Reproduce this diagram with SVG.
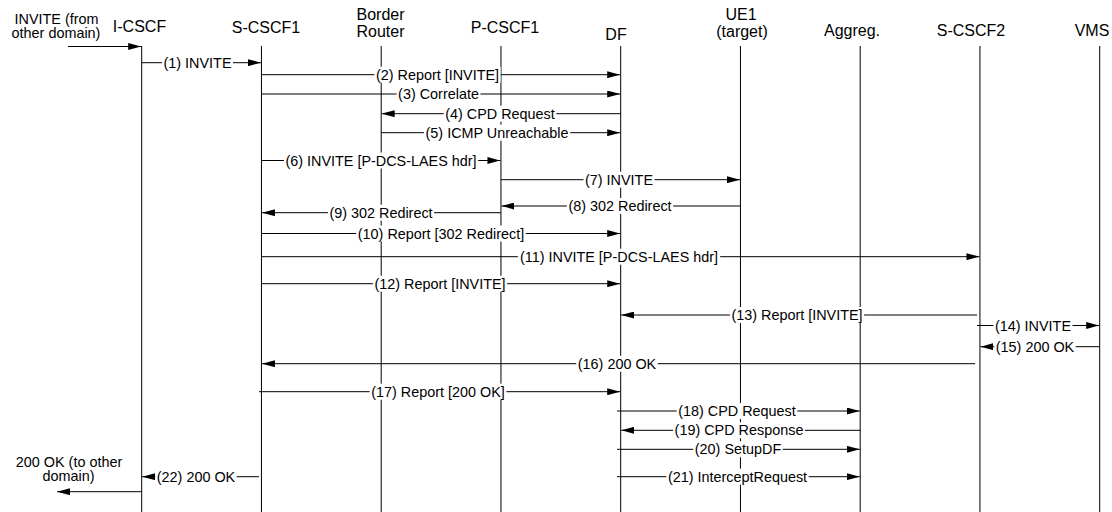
<svg xmlns="http://www.w3.org/2000/svg" width="1112" height="512" viewBox="0 0 1112 512">
<style>
.hd{font-family:"Liberation Sans",Arial,sans-serif;font-size:16px;fill:#000;text-anchor:middle}
.ext{font-family:"Liberation Sans",Arial,sans-serif;font-size:14.4px;fill:#000;text-anchor:middle}
.lb{font-family:"Liberation Sans",Arial,sans-serif;font-size:14.4px;fill:#000;text-anchor:middle}
.ll{stroke:#000;stroke-width:1;fill:none}
.msg{stroke:#000;stroke-width:1;fill:none;marker-end:url(#ah)}
.bg{fill:#fff}
</style>
<defs>
<marker id="ah" viewBox="0 0 13 7" refX="13" refY="3.5" markerWidth="13" markerHeight="7" markerUnits="userSpaceOnUse" orient="auto">
<path d="M0,0 L13,3.5 L0,7 z" fill="#000"/>
</marker>
</defs>
<rect width="1112" height="512" fill="#fff"/>

<g id="ext-in">
<text class="ext" x="56.5" y="23.5">INVITE (from</text>
<text class="ext" x="56" y="38">other domain)</text>
</g>
<g id="ext-out">
<text class="ext" x="69" y="466.5">200 OK (to other</text>
<text class="ext" x="68.5" y="481">domain)</text>
</g>

<g id="node-icscf"><text class="hd" x="139.5" y="32">I-CSCF</text><line class="ll" x1="141.7" y1="46" x2="141.7" y2="512"/></g>
<g id="node-scscf1"><text class="hd" x="266" y="32.5">S-CSCF1</text><line class="ll" x1="261.45" y1="46" x2="261.45" y2="512"/></g>
<g id="node-border"><text class="hd" x="380.5" y="20">Border</text><text class="hd" x="380.5" y="37">Router</text><line class="ll" x1="381.2" y1="46" x2="381.2" y2="512"/></g>
<g id="node-pcscf1"><text class="hd" x="505" y="33">P-CSCF1</text><line class="ll" x1="500.95" y1="46" x2="500.95" y2="512"/></g>
<g id="node-df"><text class="hd" x="616" y="39.5">DF</text><line class="ll" x1="620.7" y1="46" x2="620.7" y2="512"/></g>
<g id="node-ue1"><text class="hd" x="741" y="20">UE1</text><text class="hd" x="742" y="37">(target)</text><line class="ll" x1="740.45" y1="46" x2="740.45" y2="512"/></g>
<g id="node-aggreg"><text class="hd" x="852" y="36">Aggreg.</text><line class="ll" x1="860.2" y1="46" x2="860.2" y2="512"/></g>
<g id="node-scscf2"><text class="hd" x="971" y="36">S-CSCF2</text><line class="ll" x1="979.95" y1="46" x2="979.95" y2="512"/></g>
<g id="node-vms"><text class="hd" x="1092" y="36">VMS</text><line class="ll" x1="1099.7" y1="46" x2="1099.7" y2="512"/></g>

<g id="connectors">
<line class="msg" x1="68" y1="46.5" x2="141.2" y2="46.5"/>
<line class="msg" x1="141.7" y1="491.7" x2="57" y2="491.7"/>

<g><line class="msg" x1="141.7" y1="62.7" x2="261" y2="62.7"/><rect class="bg" x="162" y="54.7" width="71" height="16"/><text class="lb" x="197.5" y="67.7">(1) INVITE</text></g>
<g><line class="msg" x1="261.45" y1="74.7" x2="620.2" y2="74.7"/><rect class="bg" x="374.4" y="66.7" width="126.2" height="16"/><text class="lb" x="437.5" y="79.7">(2) Report [INVITE]</text></g>
<g><line class="msg" x1="261.45" y1="94" x2="620.2" y2="94"/><rect class="bg" x="396.6" y="86" width="83.8" height="16"/><text class="lb" x="438.5" y="99">(3) Correlate</text></g>
<g><line class="msg" x1="620.7" y1="113.7" x2="381.7" y2="113.7"/><rect class="bg" x="443.7" y="105.7" width="112.6" height="16"/><text class="lb" x="500" y="118.7">(4) CPD Request</text></g>
<g><line class="msg" x1="381.2" y1="132.7" x2="620.2" y2="132.7"/><rect class="bg" x="423.9" y="124.7" width="146.2" height="16"/><text class="lb" x="497" y="137.7">(5) ICMP Unreachable</text></g>
<g><line class="msg" x1="261.45" y1="160.5" x2="500.45" y2="160.5"/><rect class="bg" x="283.9" y="152.5" width="194.2" height="16"/><text class="lb" x="381" y="165.5">(6) INVITE [P-DCS-LAES hdr]</text></g>
<g><line class="msg" x1="500.95" y1="179.7" x2="739.95" y2="179.7"/><rect class="bg" x="583.5" y="171.7" width="71" height="16"/><text class="lb" x="619" y="184.7">(7) INVITE</text></g>
<g><line class="msg" x1="740.45" y1="206" x2="501.45" y2="206"/><rect class="bg" x="566.9" y="198" width="106.2" height="16"/><text class="lb" x="620" y="211">(8) 302 Redirect</text></g>
<g><line class="msg" x1="500.95" y1="212.7" x2="261.95" y2="212.7"/><rect class="bg" x="327.9" y="204.7" width="106.2" height="16"/><text class="lb" x="381" y="217.7">(9) 302 Redirect</text></g>
<g><line class="msg" x1="261.45" y1="233.5" x2="620.2" y2="233.5"/><rect class="bg" x="356.25" y="225.5" width="169.5" height="16"/><text class="lb" x="441" y="238.5">(10) Report [302 Redirect]</text></g>
<g><line class="msg" x1="261.45" y1="256.7" x2="979.45" y2="256.7"/><rect class="bg" x="517.85" y="248.7" width="202.3" height="16"/><text class="lb" x="619" y="261.7">(11) INVITE [P-DCS-LAES hdr]</text></g>
<g><line class="msg" x1="261.45" y1="283.7" x2="620.2" y2="283.7"/><rect class="bg" x="372.9" y="275.7" width="134.2" height="16"/><text class="lb" x="440" y="288.7">(12) Report [INVITE]</text></g>
<g><line class="msg" x1="977" y1="315" x2="621.2" y2="315"/><rect class="bg" x="729.9" y="307" width="134.2" height="16"/><text class="lb" x="797" y="320">(13) Report [INVITE]</text></g>
<g><line class="msg" x1="977" y1="325.5" x2="1099.2" y2="325.5"/><rect class="bg" x="993.5" y="317.5" width="79" height="16"/><text class="lb" x="1033" y="330.5">(14) INVITE</text></g>
<g><line class="msg" x1="1099.7" y1="346.7" x2="980.45" y2="346.7"/><rect class="bg" x="994.3" y="338.7" width="81.4" height="16"/><text class="lb" x="1035" y="351.7">(15) 200 OK</text></g>
<g><line class="msg" x1="975" y1="363.7" x2="261.95" y2="363.7"/><rect class="bg" x="576.3" y="355.7" width="81.4" height="16"/><text class="lb" x="617" y="368.7">(16) 200 OK</text></g>
<g><line class="msg" x1="259" y1="391.7" x2="620.2" y2="391.7"/><rect class="bg" x="369.65" y="383.7" width="136.7" height="16"/><text class="lb" x="438" y="396.7">(17) Report [200 OK]</text></g>
<g><line class="msg" x1="617" y1="411" x2="859.7" y2="411"/><rect class="bg" x="676.7" y="403" width="120.6" height="16"/><text class="lb" x="737" y="416">(18) CPD Request</text></g>
<g><line class="msg" x1="860.2" y1="430.3" x2="621.2" y2="430.3"/><rect class="bg" x="673.1" y="422.3" width="131.8" height="16"/><text class="lb" x="739" y="435.3">(19) CPD Response</text></g>
<g><line class="msg" x1="617" y1="449.3" x2="859.7" y2="449.3"/><rect class="bg" x="693.3" y="441.3" width="89.4" height="16"/><text class="lb" x="738" y="454.3">(20) SetupDF</text></g>
<g><line class="msg" x1="617" y1="476.7" x2="859.7" y2="476.7"/><rect class="bg" x="666.35" y="468.7" width="142.3" height="16"/><text class="lb" x="737.5" y="481.7">(21) InterceptRequest</text></g>
<g><line class="msg" x1="259" y1="476.7" x2="142.2" y2="476.7"/><rect class="bg" x="155.3" y="468.7" width="81.4" height="16"/><text class="lb" x="196" y="481.7">(22) 200 OK</text></g>
</g>
</svg>
